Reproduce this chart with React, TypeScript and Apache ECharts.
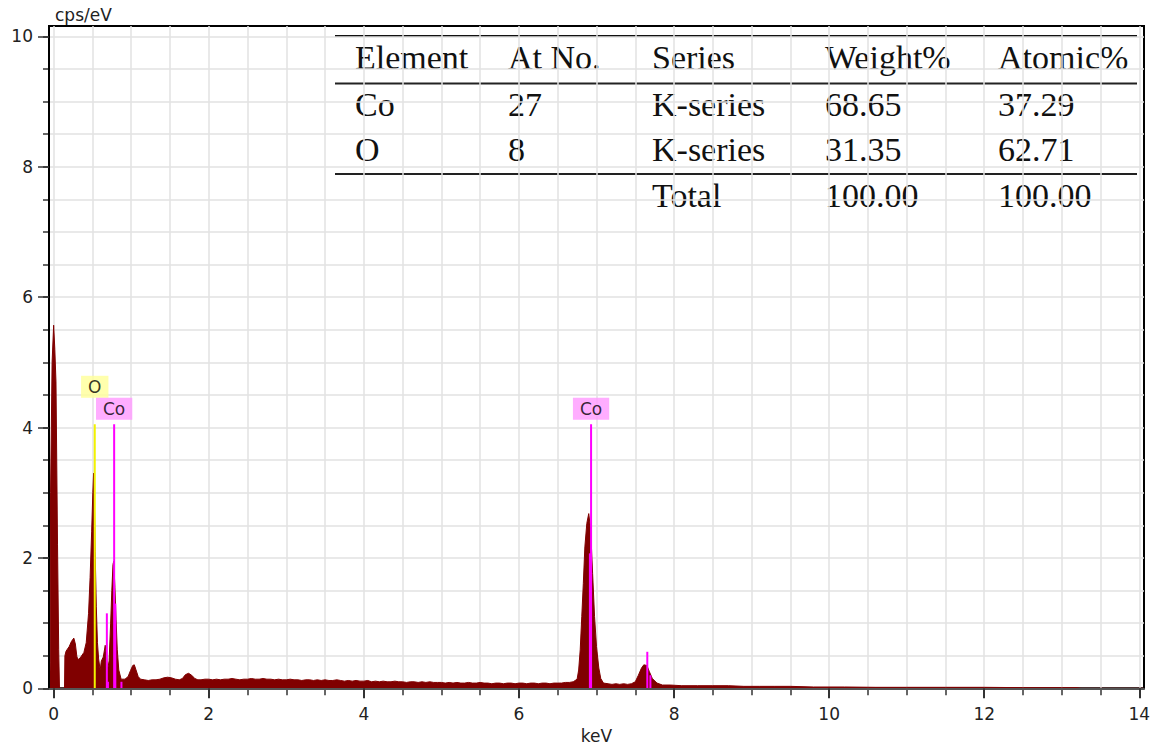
import React, { useEffect, useRef } from "react";
import * as echarts from "echarts";

// ---------- axis ticks ----------
const xMajorTicks = [0, 2, 4, 6, 8, 10, 12, 14];
const xMinorTicks = [0, 0.5, 1, 1.5, 2, 2.5, 3, 3.5, 4, 4.5, 5, 5.5, 6, 6.5, 7, 7.5, 8, 8.5, 9, 9.5, 10, 10.5, 11, 11.5, 12, 12.5, 13, 13.5, 14];
const yMajorTicks = [0, 2, 4, 6, 8, 10];
const yMinorTicks = [0, 0.5, 1, 1.5, 2, 2.5, 3, 3.5, 4, 4.5, 5, 5.5, 6, 6.5, 7, 7.5, 8, 8.5, 9, 9.5, 10];
const xRange = [-0.06, 14.06];
const yRange = [0, 10.16];

// ---------- spectrum [keV, cps/eV] ----------
const spectrumLow: [number, number][] = [
  [-0.05, 0], [-0.045, 0.4], [-0.04, 3.0], [-0.02, 5.0], [0.0, 5.57], [0.015, 5.2], [0.03, 4.7],
  [0.05, 2.2], [0.065, 0.6], [0.075, 0], [0.14, 0], [0.145, 0.5], [0.16, 0.57], [0.2, 0.64],
  [0.23, 0.72], [0.26, 0.77], [0.28, 0.68], [0.3, 0.48], [0.32, 0.44], [0.35, 0.48], [0.39, 0.55],
  [0.42, 0.7], [0.45, 1.15], [0.47, 1.7], [0.49, 2.4], [0.505, 3.0], [0.515, 3.3], [0.525, 2.9],
  [0.535, 2.1], [0.55, 1.25], [0.565, 0.7], [0.58, 0.45], [0.6, 0.28], [0.615, 0.42], [0.64, 0.48],
  [0.665, 0.66], [0.68, 0.5], [0.695, 0.28], [0.715, 0.42], [0.735, 1.0], [0.75, 1.5], [0.765, 1.9],
  [0.775, 1.95], [0.79, 1.55], [0.805, 1.05], [0.82, 0.6], [0.84, 0.28], [0.87, 0.14], [0.92, 0.14],
  [0.96, 0.18], [0.99, 0.27], [1.02, 0.35], [1.04, 0.36], [1.06, 0.29], [1.09, 0.18], [1.12, 0.14],
  [1.17, 0.13], [1.22, 0.12], [1.27, 0.13], [1.32, 0.13], [1.37, 0.14], [1.42, 0.16], [1.47, 0.17],
  [1.52, 0.16], [1.57, 0.14], [1.62, 0.13], [1.66, 0.15], [1.7, 0.21], [1.74, 0.23], [1.78, 0.2],
  [1.82, 0.15], [1.86, 0.13],
];
const spectrumMid: [number, number][] = [
  [1.9, 0.13], [1.95, 0.14], [2.0, 0.14], [2.05, 0.13], [2.1, 0.14], [2.15, 0.13], [2.2, 0.14],
  [2.25, 0.14], [2.3, 0.15], [2.35, 0.14], [2.4, 0.13], [2.45, 0.14], [2.5, 0.14], [2.55, 0.15],
  [2.6, 0.14], [2.65, 0.14], [2.7, 0.15], [2.75, 0.14], [2.8, 0.14], [2.85, 0.13], [2.9, 0.14],
  [2.95, 0.13], [3.0, 0.13], [3.05, 0.14], [3.1, 0.13], [3.15, 0.13], [3.2, 0.12], [3.25, 0.13],
  [3.3, 0.13], [3.35, 0.12], [3.4, 0.13], [3.45, 0.12], [3.5, 0.13], [3.55, 0.12], [3.6, 0.12],
  [3.65, 0.13], [3.7, 0.12], [3.75, 0.11], [3.8, 0.12], [3.85, 0.11], [3.9, 0.12], [3.95, 0.11],
  [4.0, 0.11], [4.05, 0.12], [4.1, 0.1], [4.15, 0.11], [4.2, 0.1], [4.25, 0.11], [4.3, 0.1],
  [4.35, 0.1], [4.4, 0.11], [4.45, 0.1], [4.5, 0.1], [4.55, 0.09], [4.6, 0.1], [4.65, 0.1],
  [4.7, 0.09], [4.75, 0.1], [4.8, 0.09], [4.85, 0.1], [4.9, 0.09], [4.95, 0.09], [5.0, 0.09],
  [5.05, 0.08], [5.1, 0.09], [5.15, 0.08], [5.2, 0.09], [5.25, 0.08], [5.3, 0.08], [5.35, 0.09],
  [5.4, 0.08], [5.45, 0.08], [5.5, 0.09], [5.55, 0.08], [5.6, 0.08], [5.65, 0.07], [5.7, 0.08],
  [5.75, 0.08], [5.8, 0.07], [5.85, 0.08], [5.9, 0.08], [5.95, 0.07], [6.0, 0.08], [6.05, 0.08],
  [6.1, 0.07], [6.15, 0.08], [6.2, 0.08], [6.25, 0.07], [6.3, 0.08], [6.35, 0.08], [6.4, 0.07],
  [6.45, 0.08], [6.5, 0.08], [6.55, 0.08], [6.6, 0.09], [6.65, 0.09], [6.7, 0.1],
];
const spectrumHigh: [number, number][] = [
  [6.75, 0.14], [6.77, 0.28], [6.79, 0.59], [6.81, 1.1], [6.83, 1.61], [6.85, 2.17], [6.875, 2.53],
  [6.9, 2.68], [6.925, 2.43], [6.95, 1.76], [6.975, 1.1], [7.0, 0.64], [7.03, 0.31], [7.055, 0.15],
  [7.09, 0.08], [7.15, 0.07], [7.2, 0.06], [7.25, 0.07], [7.3, 0.06], [7.35, 0.07], [7.4, 0.06],
  [7.45, 0.07], [7.5, 0.1], [7.54, 0.2], [7.58, 0.31], [7.61, 0.36], [7.65, 0.35], [7.68, 0.26],
  [7.72, 0.15], [7.78, 0.08], [7.85, 0.05], [7.95, 0.05], [8.1, 0.04], [8.3, 0.04], [8.5, 0.04],
  [8.7, 0.04], [8.9, 0.03], [9.1, 0.03], [9.3, 0.03], [9.5, 0.03], [9.8, 0.02], [10.2, 0.02],
  [10.6, 0.015], [11.0, 0.015], [11.5, 0.015], [12.0, 0.015], [12.5, 0.01], [13.0, 0.01],
  [13.2, 0.01], [13.25, 0], [14.06, 0],
];

// ---------- element marker lines ----------
const markerKeV = [0.53, 0.686, 0.7, 0.78, 0.795, 0.874, 6.915, 6.93, 7.655, 7.695];
const markerHeight = [4.05, 1.15, 0.1, 4.05, 1.3, 0.1, 2.07, 4.05, 0.56, 0.2];
const markerElement = ["O", "Co", "Co", "Co", "Co", "Co", "Co", "Co", "Co", "Co"];

// ---------- peak labels ----------
const peakLabels = ["O", "Co", "Co"];
const peakLabelKeV = [0.53, 0.78, 6.93];
const peakLabelTop = [4.05, 4.05, 4.05];
const peakLabelLevel = [1, 0, 0];

// ---------- quantification table ----------
const tableHeader = ["Element", "At No.", "Series", "Weight%", "Atomic%"];
const tableRows = [
  ["Co", "27", "K-series", "68.65", "37.29"],
  ["O", "8", "K-series", "31.35", "62.71"],
  ["", "", "Total", "100.00", "100.00"],
];

const elementLineColor: Record<string, string> = { O: "#f2f200", Co: "#ff00ff" };
const elementLabelColor: Record<string, string> = { O: "#ffff99", Co: "#ff99ff" };

const SANS = "DejaVu Sans, Verdana, sans-serif";
const SERIF = "Liberation Serif, Times New Roman, serif";

function buildTable() {
  const colX = [355, 508, 652, 825, 998];
  const rowY = [57, 104, 149, 195];
  const children: any[] = [
    { type: "rect", shape: { x: 325, y: 33, width: 813, height: 182 }, style: { fill: "#ffffff" } },
    { type: "line", shape: { x1: 335, y1: 36, x2: 1137, y2: 36 }, style: { stroke: "#111", lineWidth: 2 } },
    { type: "line", shape: { x1: 335, y1: 83.5, x2: 1137, y2: 83.5 }, style: { stroke: "#222", lineWidth: 2 } },
    { type: "line", shape: { x1: 335, y1: 174, x2: 1137, y2: 174 }, style: { stroke: "#222", lineWidth: 2 } },
  ];
  const rows = [tableHeader, ...tableRows];
  rows.forEach((row, r) => {
    row.forEach((txt, c) => {
      if (!txt) return;
      children.push({
        type: "text",
        x: colX[c],
        y: rowY[r],
        style: {
          text: txt,
          fill: "#111",
          font: `34px ${SERIF}`,
          align: "left",
          verticalAlign: "middle",
        },
      });
    });
  });
  return { type: "group", z: 100, children };
}

export default function App() {
  const ref = useRef<HTMLDivElement>(null);
  useEffect(() => {
    if (!ref.current) return;
    const chart = echarts.init(ref.current, undefined, { renderer: "svg" });
    const spectrum = [...spectrumLow, ...spectrumMid, ...spectrumHigh];
    const tickColor = "#333";
    const gridColor = "#e2e2e2";
    const option: any = {
      animation: false,
      backgroundColor: "#ffffff",
      grid: {
        left: 49,
        right: 13,
        top: 26,
        bottom: 56.7,
        show: true,
        borderColor: "#000",
        borderWidth: 2,
        backgroundColor: "#fff",
        containLabel: false,
        outerBoundsMode: "none",
      },
      xAxis: [
        {
          type: "value",
          min: xRange[0],
          max: xRange[1],
          position: "bottom",
          name: "keV",
          nameLocation: "middle",
          nameGap: 35,
          nameTextStyle: { fontFamily: SANS, fontSize: 17, color: "#222" },
          axisLine: { show: true, onZero: false, lineStyle: { color: "#555", width: 2 } },
          axisTick: { show: true, length: 10, customValues: xMajorTicks, lineStyle: { color: tickColor, width: 2 } },
          axisLabel: { show: true, customValues: xMajorTicks, margin: 17, fontFamily: SANS, fontSize: 17, color: "#222" },
          splitLine: { show: false },
          z: 5,
        },
        {
          type: "value",
          min: xRange[0],
          max: xRange[1],
          position: "bottom",
          axisLine: { show: false, onZero: false },
          axisTick: { show: true, length: 7, customValues: xMinorTicks, lineStyle: { color: tickColor, width: 1.5 } },
          axisLabel: { show: false },
          splitLine: { show: true, lineStyle: { color: gridColor, width: 1.5 } },
        },
      ],
      yAxis: [
        {
          type: "value",
          min: yRange[0],
          max: yRange[1],
          position: "left",
          name: "cps/eV",
          nameLocation: "end",
          nameGap: 3,
          nameTextStyle: { fontFamily: SANS, fontSize: 17, color: "#222", align: "left", verticalAlign: "bottom", padding: [0, 0, 0, 6] },
          axisLine: { show: true, onZero: false, lineStyle: { color: "#000", width: 2 } },
          axisTick: { show: true, length: 11, customValues: yMajorTicks, lineStyle: { color: tickColor, width: 1.5 } },
          axisLabel: { show: true, customValues: yMajorTicks, margin: 16, fontFamily: SANS, fontSize: 17, color: "#222" },
          splitLine: { show: false },
          z: 5,
        },
        {
          type: "value",
          min: yRange[0],
          max: yRange[1],
          position: "left",
          axisLine: { show: false, onZero: false },
          axisTick: { show: true, length: 6, customValues: yMinorTicks, lineStyle: { color: tickColor, width: 1.5 } },
          axisLabel: { show: false },
          splitLine: { show: true, lineStyle: { color: gridColor, width: 1.5 } },
        },
      ],
      series: [
        {
          type: "line",
          data: spectrum,
          showSymbol: false,
          symbol: "none",
          lineStyle: { color: "#800000", width: 1 },
          areaStyle: { color: "#800000", opacity: 1 },
          z: 2,
          silent: true,
        },
        {
          type: "custom",
          coordinateSystem: "cartesian2d",
          data: markerKeV.map((k, i) => [k, markerHeight[i], i]),
          renderItem: (_params: any, api: any) => {
            const x = api.value(0);
            const h = api.value(1);
            const i = api.value(2);
            const p0 = api.coord([x, 0]);
            const p1 = api.coord([x, h]);
            return {
              type: "line",
              shape: { x1: p0[0], y1: p0[1], x2: p1[0], y2: p1[1] },
              style: { stroke: elementLineColor[markerElement[i]], lineWidth: 2 },
            };
          },
          z: 3,
          silent: true,
        },
        {
          type: "scatter",
          symbolSize: 1,
          itemStyle: { color: "rgba(0,0,0,0)" },
          data: peakLabels.map((n, i) => ({
            name: n,
            value: [peakLabelKeV[i], peakLabelTop[i]],
            label: { distance: 4 + 22 * peakLabelLevel[i], backgroundColor: elementLabelColor[n] },
          })),
          label: {
            show: true,
            position: "top",
            formatter: "{b}",
            fontFamily: SANS,
            fontSize: 17,
            lineHeight: 16,
            color: "#000",
            padding: [3, 7, 3, 7],
          },
          z: 4,
          silent: true,
        },
      ],
      graphic: [buildTable()],
    };
    chart.setOption(option);
    return () => chart.dispose();
  }, []);
  return <div ref={ref} style={{ width: 1157, height: 745, position: "absolute", left: 0, top: 0 }} />;
}
